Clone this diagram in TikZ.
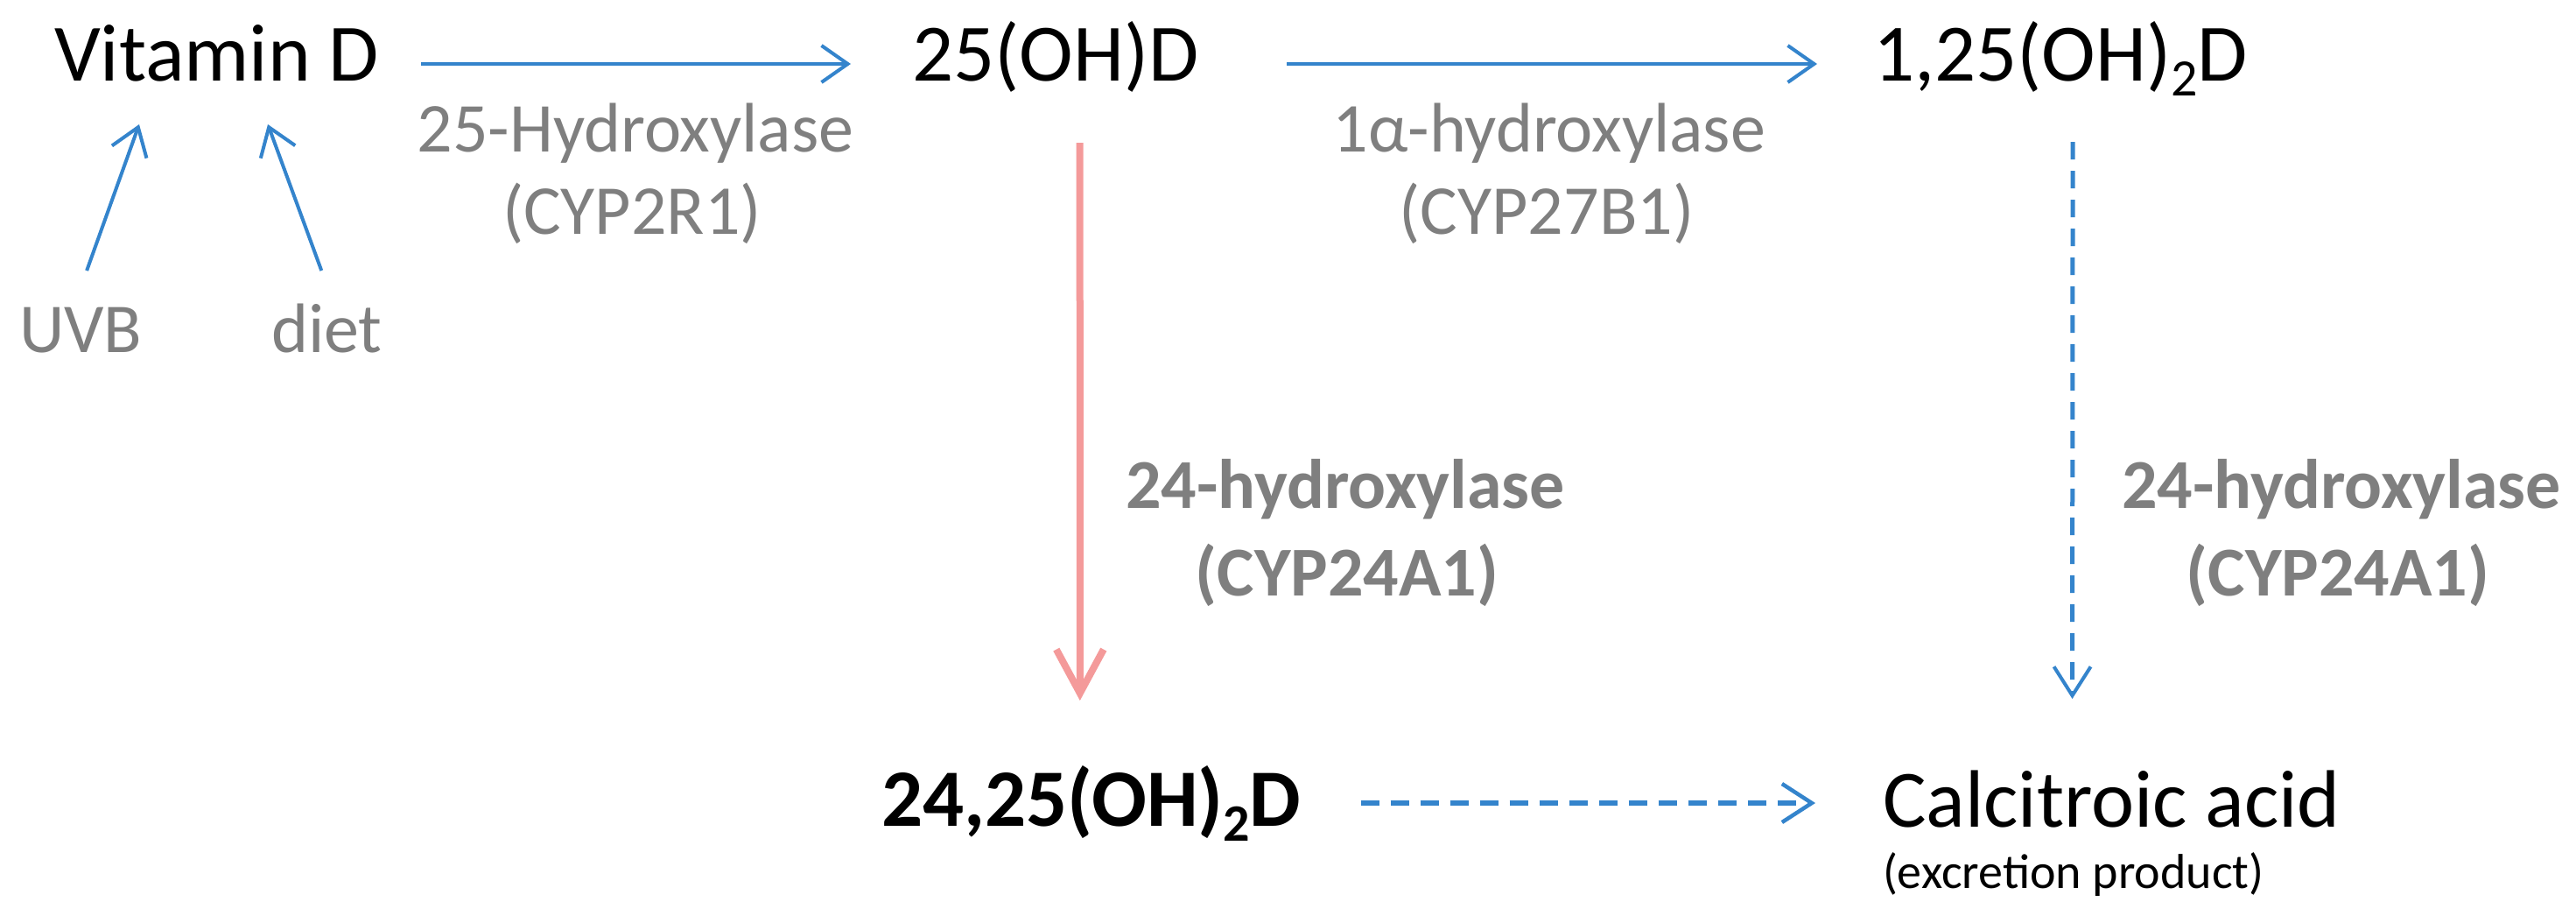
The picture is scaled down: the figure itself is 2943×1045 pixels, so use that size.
\documentclass[tikz,border=0pt]{standalone}
\usepackage{fontspec}
\setmainfont{Carlito}
\usetikzlibrary{arrows.meta,calc}
\definecolor{arrblue}{RGB}{52,132,204}
\definecolor{arrred}{RGB}{244,154,154}
\definecolor{lblgray}{RGB}{127,127,127}
\newcommand\subtwo{\raisebox{-0.19em}{\fontsize{60}{60}\selectfont 2}}
\tikzset{
  main/.style={inner sep=0pt, outer sep=0pt, font=\fontsize{93}{112}\selectfont, text=black},
  enz/.style={inner sep=0pt, outer sep=0pt, font=\fontsize{80}{97}\selectfont, text=lblgray},
  enzb/.style={enz, font=\fontsize{80}{97}\selectfont\bfseries},
  smalltxt/.style={inner sep=0pt, outer sep=0pt, font=\fontsize{56}{67}\selectfont, text=black},
  bluearrow/.style={draw=arrblue, line width=4pt, -{Straight Barb[length=30pt,width=42pt]}},
  bluedash/.style={draw=arrblue, line width=5pt, dash pattern=on 20pt off 13pt, -{Straight Barb[length=33pt,width=42pt,line width=4pt]}},
  bluedashthick/.style={draw=arrblue, line width=5.5pt, dash pattern=on 21pt off 13pt, -{Straight Barb[length=34pt,width=44pt,line width=4.5pt]}},
  redarrow/.style={draw=arrred, line width=8pt, -{Straight Barb[length=50pt,width=54pt]}},
}
\begin{document}
\begin{tikzpicture}[x=1pt,y=-1pt]
\useasboundingbox (0,0) rectangle (2943,1045);
% main compounds
\node[main, anchor=base west] (vitd) at (62,92) {Vitamin D};
\node[main, anchor=base west] (ohd) at (1042,92) {25(OH)D};
\node[main, anchor=base west] (dihyd) at (2140,92) {1,25(OH)\subtwo D};
\node[main, anchor=base west, font=\fontsize{93}{112}\selectfont\bfseries] (dhd) at (1007,943) {24,25(OH)\subtwo D};
\node[main, anchor=base west] (calc) at (2151,944) {Calcitroic acid};
\node[smalltxt, anchor=base west] (excr) at (2151,1014) {(excretion product)};
% sources
\node[enz, anchor=base west] (uvb) at (22,402) {UVB};
\node[enz, anchor=base west] (diet) at (310,402) {diet};
% enzyme labels
\node[enz, anchor=base] (e1a) at (726,173) {25-Hydroxylase};
\node[enz, anchor=base] (e1b) at (722,267) {(CYP2R1)};
\node[enz, anchor=base] (e2a) at (1770,173) {1α-hydroxylase};
\node[enz, anchor=base] (e2b) at (1767,267) {(CYP27B1)};
\node[enzb, anchor=base] (e3a) at (1537,580) {24-hydroxylase};
\node[enzb, anchor=base] (e3b) at (1539,680) {(CYP24A1)};
\node[enzb, anchor=base] (e4a) at (2675,580) {24-hydroxylase};
\node[enzb, anchor=base] (e4b) at (2671,680) {(CYP24A1)};
% connectors
\draw[bluearrow] ([xshift=48pt,yshift=19pt]vitd.base east) -- ([xshift=-70pt,yshift=19pt]ohd.base west);
\draw[bluearrow] ([xshift=101pt,yshift=19pt]ohd.base east) -- ([xshift=-64pt,yshift=19pt]dihyd.base west);
\draw[bluearrow] ([xshift=7pt,yshift=93pt]uvb.base) -- ([xshift=97pt,yshift=-50pt]vitd.base west);
\draw[bluearrow] ([xshift=-6pt,yshift=93pt]diet.base) -- ([xshift=244pt,yshift=-50pt]vitd.base west);
\draw[redarrow] ([xshift=28pt,yshift=-71pt]ohd.base) -- ([xshift=-13pt,yshift=143pt]dhd.base);
\draw[bluedash] ([xshift=14pt,yshift=-70pt]dihyd.base) -- ([xshift=-45pt,yshift=146pt]calc.base);
\draw[bluedashthick] ([xshift=68pt,yshift=26pt]dhd.base east) -- ([xshift=-77pt,yshift=27pt]calc.base west);
\end{tikzpicture}
\end{document}
